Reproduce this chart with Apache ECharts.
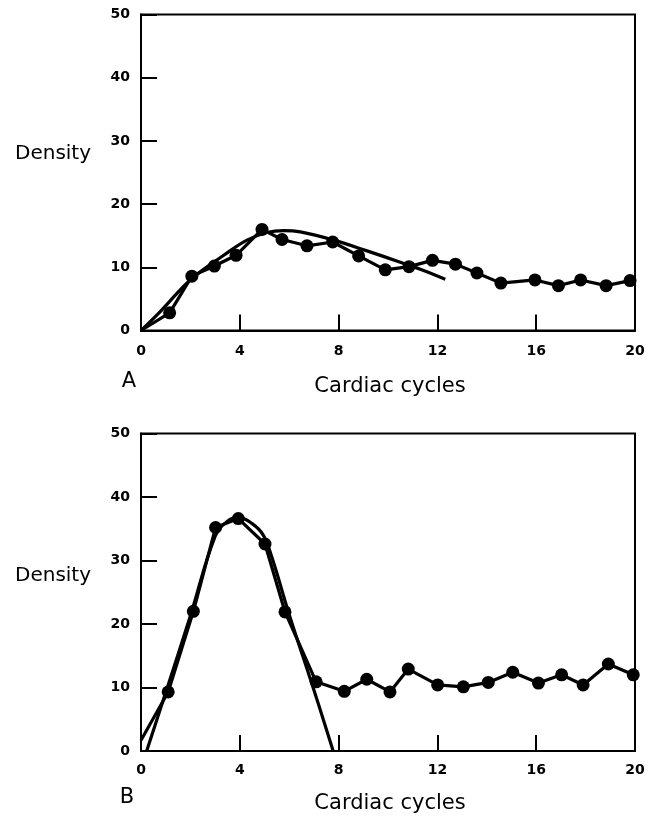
<!DOCTYPE html>
<html>
<head>
<meta charset="utf-8">
<script src="https://cdn.jsdelivr.net/npm/echarts@6/dist/echarts.min.js"></script>
<style>
html,body{margin:0;padding:0;background:#fff;}
#main{width:661px;height:816px;}
</style>
</head>
<body>
<div id="main"></div>
<script>
// Panel A: measured density points [cardiac cycle, density]
const dataA = [[0,0],[1.16,2.8],[2.06,8.6],[2.97,10.2],[3.85,11.9],[4.9,16.0],[5.71,14.4],[6.72,13.4],[7.76,14.0],[8.81,11.8],[9.89,9.6],[10.85,10.1],[11.8,11.1],[12.73,10.5],[13.6,9.1],[14.57,7.5],[15.95,8.0],[16.9,7.1],[17.8,8.0],[18.83,7.1],[19.8,7.9]];
// Panel A: fitted curve
const fitA = [[0,0],[0.78,3.0],[2.0,8.0],[3.35,11.9],[4.29,14.3],[5.1,15.5],[5.77,15.8],[6.45,15.6],[7.8,14.3],[9.15,12.6],[10.5,10.8],[11.44,9.5],[12.32,8.1]];
// Panel B: measured density points
const dataB = [[0,1.7],[1.1,9.3],[2.12,22.0],[3.02,35.2],[3.94,36.6],[5.02,32.6],[5.83,21.9],[7.09,10.9],[8.23,9.4],[9.14,11.3],[10.08,9.3],[10.82,12.9],[12.01,10.4],[13.05,10.1],[14.06,10.8],[15.05,12.4],[16.09,10.7],[17.03,12.0],[17.9,10.4],[18.92,13.7],[19.93,12.0]];
// Panel B: fitted curve
const fitB = [[0.23,0],[1,9.2],[2,21.3],[3,33.8],[3.5,36.2],[3.95,36.8],[4.5,35.8],[4.95,34.0],[5.3,30.5],[6,21.5],[7,9.6],[7.78,0]];
const xTicks = [0,4,8,12,16,20];
const yTicks = [0,10,20,30,40,50];

const FONT = 'DejaVu Sans';

function markers(arr){
  return arr.map((p,i)=> i===0 ? {value:p, symbol:'none'} : {value:p});
}

function xAxisDef(gi, margin){
  return {
    gridIndex: gi, type:'value', min: xTicks[0], max: xTicks[xTicks.length-1], interval: 4,
    axisLine:{show:true, onZero:false, lineStyle:{color:'#000', width:2}},
    axisTick:{show:true, inside:true, length:16, lineStyle:{color:'#000', width:2}},
    axisLabel:{color:'#000', fontFamily:FONT, fontSize:14, fontWeight:'bold', margin: margin},
    splitLine:{show:false}
  };
}
function yAxisDef(gi){
  return {
    gridIndex: gi, type:'value', min: yTicks[0], max: yTicks[yTicks.length-1], interval: 10,
    axisLine:{show:true, onZero:false, lineStyle:{color:'#000', width:2}},
    axisTick:{show:true, inside:true, length:16, lineStyle:{color:'#000', width:2}},
    axisLabel:{color:'#000', fontFamily:FONT, fontSize:14, fontWeight:'bold', margin: 11},
    splitLine:{show:false}
  };
}

const chart = echarts.init(document.getElementById('main'), null, {renderer:'canvas'});
chart.setOption({
  animation:false,
  backgroundColor:'#fff',
  grid:[
    {left:141, top:14.5, width:494, height:316, show:true, borderColor:'#000', borderWidth:2, backgroundColor:'transparent'},
    {left:141, top:433.5, width:494, height:317.5, show:true, borderColor:'#000', borderWidth:2, backgroundColor:'transparent'}
  ],
  xAxis:[xAxisDef(0,14), xAxisDef(1,12)],
  yAxis:[yAxisDef(0), yAxisDef(1)],
  series:[
    {type:'line', xAxisIndex:0, yAxisIndex:0, data:fitA, smooth:0.4, showSymbol:false,
     lineStyle:{color:'#000', width:3.2}},
    {type:'line', xAxisIndex:0, yAxisIndex:0, data:markers(dataA), symbol:'circle', symbolSize:13,
     itemStyle:{color:'#000'}, lineStyle:{color:'#000', width:3.2}},
    {type:'line', xAxisIndex:1, yAxisIndex:1, data:fitB, smooth:0.4, showSymbol:false,
     lineStyle:{color:'#000', width:3.2}},
    {type:'line', xAxisIndex:1, yAxisIndex:1, data:markers(dataB), symbol:'circle', symbolSize:13,
     itemStyle:{color:'#000'}, lineStyle:{color:'#000', width:3.2}}
  ],
  graphic:[
    {type:'text', left:15, top:144, style:{text:'Density', fontFamily:FONT, fontSize:20, fill:'#000'}},
    {type:'text', left:15, top:566, style:{text:'Density', fontFamily:FONT, fontSize:20, fill:'#000'}},
    {type:'text', x:390, y:387, style:{text:'Cardiac cycles', fontFamily:FONT, fontSize:21, fill:'#000', align:'center', verticalAlign:'middle'}},
    {type:'text', x:390, y:804, style:{text:'Cardiac cycles', fontFamily:FONT, fontSize:21, fill:'#000', align:'center', verticalAlign:'middle'}},
    {type:'text', x:129, y:382, style:{text:'A', fontFamily:FONT, fontSize:21, fill:'#000', align:'center', verticalAlign:'middle'}},
    {type:'text', x:127, y:798, style:{text:'B', fontFamily:FONT, fontSize:21, fill:'#000', align:'center', verticalAlign:'middle'}}
  ]
});
</script>
</body>
</html>
